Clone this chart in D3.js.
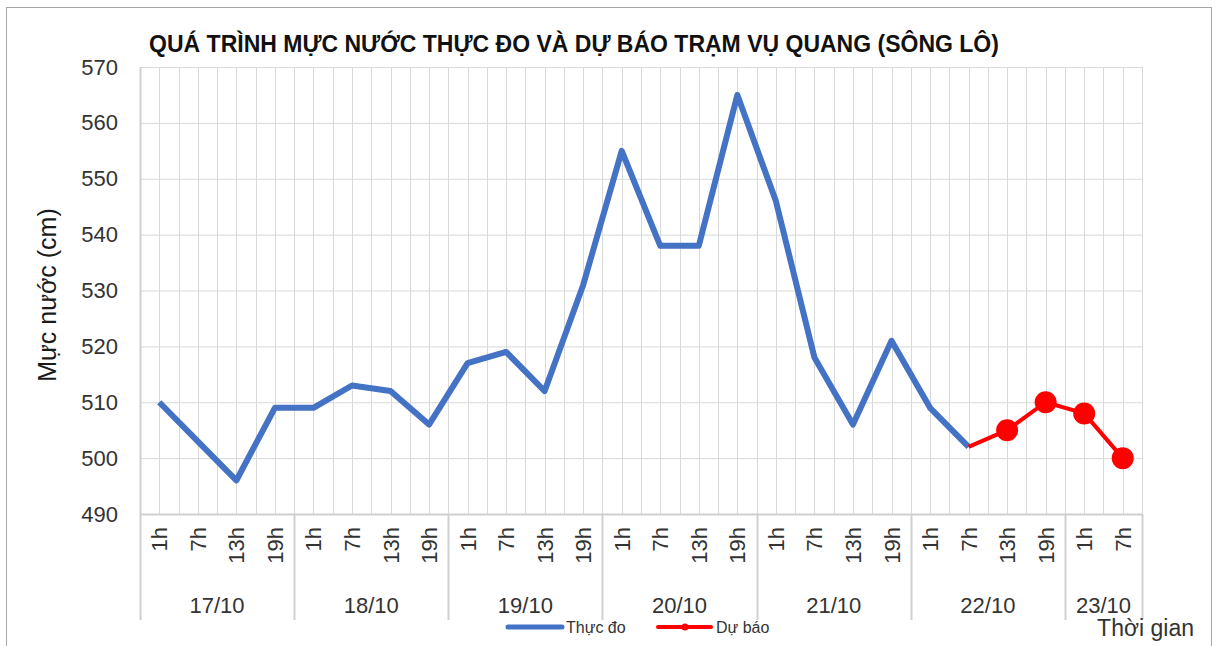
<!DOCTYPE html>
<html>
<head>
<meta charset="utf-8">
<script src="https://cdn.jsdelivr.net/npm/d3@7"></script>
<style>
  body { margin: 0; background: #fff; }
  svg { display: block; font-family: "Liberation Sans", Arial, sans-serif; }
</style>
</head>
<body>
<div id="chart"></div>
<script>
const hourLabels = ['1h','7h','13h','19h', '1h','7h','13h','19h', '1h','7h','13h','19h',
  '1h','7h','13h','19h', '1h','7h','13h','19h', '1h','7h','13h','19h', '1h','7h'];
const dayLabels = ['17/10','18/10','19/10','20/10','21/10','22/10','23/10'];
const dayCounts = [4, 4, 4, 4, 4, 4, 2];
const observed = [510, 503, 496, 509, 509, 513, 512, 506, 517, 519, 512, 531,
  555, 538, 538, 565, 546, 518, 506, 521, 509, 502];
const forecastStart = 21;
const forecast = [502, 505, 510, 508, 500];
const yTicks = [490, 500, 510, 520, 530, 540, 550, 560, 570];

const width = 1217, height = 646;
const plot = {left: 140, right: 1142, top: 67, bottom: 514};

const svg = d3.select('#chart').append('svg')
  .attr('width', width)
  .attr('height', height);

// chart frame
svg.append('rect')
  .attr('x', 6.5).attr('y', 7.5)
  .attr('width', 1205).attr('height', 660)
  .attr('fill', '#fff')
  .attr('stroke', '#a6a6a6');

const idx = d3.range(hourLabels.length);
const x = d3.scaleBand().domain(idx).range([plot.left, plot.right]).padding(0);
const y = d3.scaleLinear().domain([490, 570]).range([plot.bottom, plot.top]);
const cx = i => x(i) + x.bandwidth() / 2;

// vertical gridlines: at each category edge and centre
const grid = svg.append('g').attr('stroke', '#d9d9d9').attr('stroke-width', 1);
idx.forEach(i => {
  [x(i), cx(i)].forEach(px => {
    grid.append('line')
      .attr('x1', Math.round(px) + .5).attr('x2', Math.round(px) + .5)
      .attr('y1', plot.top).attr('y2', plot.bottom);
  });
});
grid.append('line')
  .attr('x1', plot.right + .5).attr('x2', plot.right + .5)
  .attr('y1', plot.top).attr('y2', plot.bottom);

// horizontal gridlines + y axis
const yAxis = d3.axisLeft(y).tickValues(yTicks).tickSize(0).tickPadding(22);
svg.append('g')
  .attr('transform', `translate(${plot.left},0)`)
  .call(yAxis)
  .call(g => g.select('.domain').remove())
  .call(g => g.selectAll('.tick text')
    .attr('font-size', 22)
    .attr('fill', '#333')
    .attr('font-family', '"Liberation Sans", Arial, sans-serif'))
  .call(g => g.selectAll('.tick line').clone()
    .attr('x2', plot.right - plot.left)
    .attr('stroke', '#d9d9d9'));

// x axis line and left edge
const axisCol = '#d0d0d0';
svg.append('line')
  .attr('x1', plot.left).attr('x2', plot.right)
  .attr('y1', plot.bottom + .5).attr('y2', plot.bottom + .5)
  .attr('stroke', axisCol).attr('stroke-width', 2);
svg.append('line')
  .attr('x1', plot.left + .5).attr('x2', plot.left + .5)
  .attr('y1', plot.top).attr('y2', 620)
  .attr('stroke', axisCol).attr('stroke-width', 2);

// hour labels
svg.append('g').selectAll('text')
  .data(idx)
  .enter().append('text')
  .attr('transform', i => `translate(${cx(i) + 8},${plot.bottom + 13}) rotate(-90)`)
  .attr('text-anchor', 'end')
  .attr('font-size', 22)
  .attr('fill', '#333')
  .text(i => hourLabels[i]);

// day groups
let start = 0;
const groups = dayLabels.map((d, k) => {
  const g = {label: d, first: start, last: start + dayCounts[k] - 1};
  start += dayCounts[k];
  return g;
});
svg.append('g').selectAll('line')
  .data(groups)
  .enter().append('line')
  .attr('x1', g => Math.round(x(g.last) + x.bandwidth()) + .5)
  .attr('x2', g => Math.round(x(g.last) + x.bandwidth()) + .5)
  .attr('y1', plot.bottom).attr('y2', 620)
  .attr('stroke', axisCol).attr('stroke-width', 2);
svg.append('g').selectAll('text')
  .data(groups)
  .enter().append('text')
  .attr('x', g => (x(g.first) + x(g.last) + x.bandwidth()) / 2)
  .attr('y', 613)
  .attr('text-anchor', 'middle')
  .attr('font-size', 22)
  .attr('fill', '#333')
  .text(g => g.label);

// series
const line = d3.line().x(d => cx(d[0])).y(d => y(d[1]));
const obsPts = observed.map((v, i) => [i, v]);
const fcPts = forecast.map((v, i) => [forecastStart + i, v]);

svg.append('path')
  .attr('d', line(obsPts))
  .attr('fill', 'none')
  .attr('stroke', '#4472c4')
  .attr('stroke-width', 6)
  .attr('stroke-linejoin', 'round');

svg.append('path')
  .attr('d', line(fcPts))
  .attr('fill', 'none')
  .attr('stroke', '#ff0000')
  .attr('stroke-width', 4)
  .attr('stroke-linejoin', 'round');

svg.append('g').selectAll('circle')
  .data(fcPts.slice(1))
  .enter().append('circle')
  .attr('cx', d => cx(d[0]))
  .attr('cy', d => y(d[1]))
  .attr('r', 11)
  .attr('fill', '#ff0000');

// title
svg.append('text')
  .attr('x', 574).attr('y', 52)
  .attr('text-anchor', 'middle')
  .attr('font-size', 23)
  .attr('font-weight', 'bold')
  .attr('fill', '#111')
  .text('QUÁ TRÌNH MỰC NƯỚC THỰC ĐO VÀ DỰ BÁO TRẠM VỤ QUANG (SÔNG LÔ)');

// y title
svg.append('text')
  .attr('transform', 'translate(56,295) rotate(-90)')
  .attr('text-anchor', 'middle')
  .attr('font-size', 25)
  .attr('fill', '#1a1a1a')
  .text('Mực nước (cm)');

// x title
svg.append('text')
  .attr('x', 1194).attr('y', 636)
  .attr('text-anchor', 'end')
  .attr('font-size', 23)
  .attr('fill', '#333')
  .text('Thời gian');

// legend
const legend = svg.append('g').attr('font-size', 16).attr('fill', '#333');
legend.append('line')
  .attr('x1', 508).attr('x2', 562).attr('y1', 627).attr('y2', 627)
  .attr('stroke', '#4472c4').attr('stroke-width', 5).attr('stroke-linecap', 'round');
legend.append('text').attr('x', 566).attr('y', 633).text('Thực đo');
legend.append('line')
  .attr('x1', 658).attr('x2', 711).attr('y1', 627).attr('y2', 627)
  .attr('stroke', '#ff0000').attr('stroke-width', 4).attr('stroke-linecap', 'round');
legend.append('circle').attr('cx', 685).attr('cy', 627).attr('r', 3.5).attr('fill', '#ff0000');
legend.append('text').attr('x', 716).attr('y', 633).text('Dự báo');
</script>
</body>
</html>
